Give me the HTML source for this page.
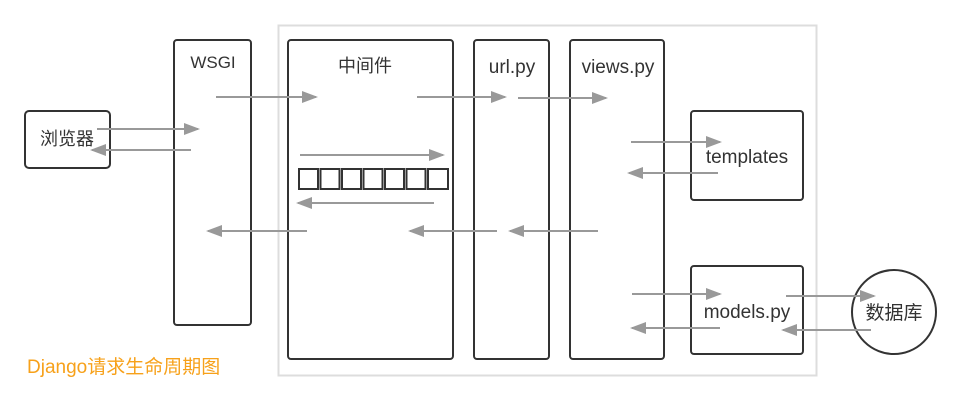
<!DOCTYPE html>
<html><head><meta charset="utf-8"><style>
html,body{margin:0;padding:0;background:#fff;}
svg{display:block;}
text{font-family:"Liberation Sans","Noto Sans CJK SC",sans-serif;fill:#333;}
</style></head><body>
<svg width="961" height="407" viewBox="0 0 961 407" xmlns="http://www.w3.org/2000/svg">
<defs>
<marker id="a" markerWidth="8" markerHeight="6" refX="7" refY="3" orient="auto" markerUnits="strokeWidth">
<path d="M0,0 L8,3 L0,6 z" fill="#999"/></marker>
</defs>
<rect x="278.5" y="25.5" width="538" height="350" fill="none" stroke="#ddd" stroke-width="2"/>
<g fill="#fff" stroke="#333" stroke-width="2">
<rect x="25" y="111" width="85" height="57" rx="4"/>
<rect x="174" y="40" width="77" height="285" rx="3"/>
<rect x="288" y="40" width="165" height="319" rx="3"/>
<rect x="474" y="40" width="75" height="319" rx="3"/>
<rect x="570" y="40" width="94" height="319" rx="3"/>
<rect x="691" y="111" width="112" height="89" rx="3"/>
<rect x="691" y="266" width="112" height="88" rx="3"/>
<circle cx="894" cy="312" r="42"/>
<rect x="299" y="169" width="19" height="20"/>
<rect x="320.5" y="169" width="19" height="20"/>
<rect x="342" y="169" width="19" height="20"/>
<rect x="363.5" y="169" width="19" height="20"/>
<rect x="385" y="169" width="19" height="20"/>
<rect x="406.5" y="169" width="19" height="20"/>
<rect x="428" y="169" width="20" height="20"/>
</g>
<g font-size="19">
<text x="67" y="145" text-anchor="middle" font-size="18">浏览器</text>
<text x="213" y="68" text-anchor="middle" font-size="17">WSGI</text>
<text x="365" y="72" text-anchor="middle" font-size="18">中间件</text>
<text x="512" y="73" text-anchor="middle">url.py</text>
<text x="618" y="73" text-anchor="middle">views.py</text>
<text x="747" y="163" text-anchor="middle">templates</text>
<text x="747" y="318" text-anchor="middle">models.py</text>
<text x="894" y="319" text-anchor="middle">数据库</text>
</g>
<text x="27" y="373" font-size="19" style="fill:#f7a11a">Django请求生命周期图</text>
<g stroke="#999" stroke-width="2" marker-end="url(#a)">
<line x1="216" y1="97" x2="316" y2="97"/>
<line x1="417" y1="97" x2="505" y2="97"/>
<line x1="518" y1="98" x2="606" y2="98"/>
<line x1="97" y1="129" x2="198" y2="129"/>
<line x1="191" y1="150" x2="92" y2="150"/>
<line x1="300" y1="155" x2="443" y2="155"/>
<line x1="434" y1="203" x2="298" y2="203"/>
<line x1="307" y1="231" x2="208" y2="231"/>
<line x1="497" y1="231" x2="410" y2="231"/>
<line x1="598" y1="231" x2="510" y2="231"/>
<line x1="631" y1="142" x2="720" y2="142"/>
<line x1="718" y1="173" x2="629" y2="173"/>
<line x1="632" y1="294" x2="720" y2="294"/>
<line x1="720" y1="328" x2="632" y2="328"/>
<line x1="786" y1="296" x2="874" y2="296"/>
<line x1="871" y1="330" x2="783" y2="330"/>
</g>
</svg>
</body></html>
